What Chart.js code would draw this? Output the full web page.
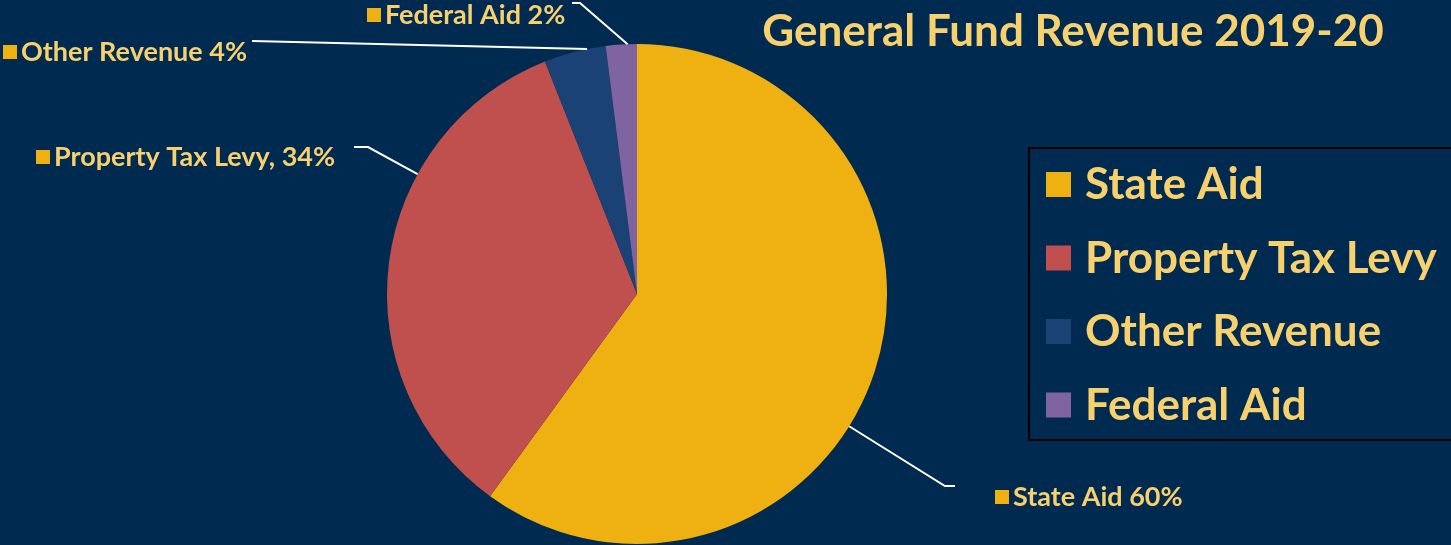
<!DOCTYPE html>
<html>
<head>
<meta charset="utf-8">
<script src="https://cdn.jsdelivr.net/npm/chart.js@4"></script>
<style>
  html, body { margin: 0; padding: 0; background: #012A51; overflow: hidden; }
  canvas { display: block; }
</style>
</head>
<body>
<canvas id="chart" width="1451" height="545"></canvas>
<script>
const title = 'General Fund Revenue 2019-20';
const categories = ['State Aid', 'Property Tax Levy', 'Other Revenue', 'Federal Aid'];
const shares = [60, 34, 4, 2];
const labelSeparators = [' ', ', ', ' ', ' '];

const sliceColors = ['#EFB112', '#C0504D', '#1B4275', '#8064A2'];
const textColor = '#F7D16E';
const font = 'Lato, "Noto Sans", sans-serif';

// where each callout sits: swatch left edge, text middle, and the leader line's elbow points
const callouts = [
  { x: 995, y: 497, leg: [[955, 486], [945, 486]] },
  { x: 36, y: 157, leg: [[354, 147], [368, 147]] },
  { x: 3, y: 52, leg: [[252, 41]] },
  { x: 367, y: 15, leg: [[572, 3], [580, 3]] },
];

const calloutPlugin = {
  id: 'callouts',
  afterDatasetsDraw(chart) {
    const ctx = chart.ctx;
    const arcs = chart.getDatasetMeta(0).data;
    ctx.save();
    ctx.font = `bold 27px ${font}`;
    ctx.textBaseline = 'middle';
    arcs.forEach((arc, i) => {
      const { x, y, startAngle, endAngle, outerRadius } = arc.getProps(
        ['x', 'y', 'startAngle', 'endAngle', 'outerRadius'], true);
      const c = callouts[i];
      const last = c.leg[c.leg.length - 1];
      // aim the leader at the rim, toward the elbow, kept inside the slice
      const span = endAngle - startAngle;
      let a = Math.atan2(last[1] - y, last[0] - x);
      while (a < startAngle) a += Math.PI * 2;
      while (a > startAngle + Math.PI * 2) a -= Math.PI * 2;
      a = Math.min(Math.max(a, startAngle + span * 0.3), endAngle - span * 0.3);
      const ax = x + Math.cos(a) * outerRadius;
      const ay = y + Math.sin(a) * outerRadius;

      ctx.strokeStyle = '#FFFFFF';
      ctx.lineWidth = 2;
      ctx.beginPath();
      ctx.moveTo(c.leg[0][0], c.leg[0][1]);
      c.leg.slice(1).forEach(p => ctx.lineTo(p[0], p[1]));
      ctx.lineTo(ax, ay);
      ctx.stroke();

      ctx.fillStyle = sliceColors[0];
      ctx.fillRect(c.x, c.y - 7, 14, 14);
      ctx.fillStyle = textColor;
      ctx.textAlign = 'left';
      ctx.fillText(categories[i] + labelSeparators[i] + shares[i] + '%', c.x + 18, c.y);
    });
    ctx.restore();
  },
};

const sideLegendPlugin = {
  id: 'sideLegend',
  afterDraw(chart) {
    const ctx = chart.ctx;
    ctx.save();
    // title
    ctx.fillStyle = textColor;
    ctx.font = `bold 44px ${font}`;
    ctx.textAlign = 'center';
    ctx.textBaseline = 'middle';
    ctx.fillText(title, 1073, 32);

    // framed legend
    ctx.strokeStyle = '#000000';
    ctx.lineWidth = 2;
    ctx.strokeRect(1029, 148, 440, 292);
    ctx.font = `bold 44px ${font}`;
    ctx.textAlign = 'left';
    chart.data.labels.forEach((label, i) => {
      const cy = 185 + i * 73.5;
      ctx.fillStyle = chart.data.datasets[0].backgroundColor[i];
      ctx.fillRect(1046, cy - 13, 25, 25);
      ctx.fillStyle = textColor;
      ctx.fillText(label, 1085, cy);
    });
    ctx.restore();
  },
};

new Chart(document.getElementById('chart'), {
  type: 'pie',
  data: {
    labels: categories,
    datasets: [
      {
        data: shares,
        backgroundColor: sliceColors,
        borderWidth: 0,
      },
    ],
  },
  options: {
    responsive: false,
    animation: false,
    devicePixelRatio: 1,
    layout: {
      padding: { left: 387, top: 44, right: 564, bottom: 1 },
    },
    plugins: {
      legend: { display: false },
      tooltip: { enabled: false },
    },
  },
  plugins: [calloutPlugin, sideLegendPlugin],
});
</script>
</body>
</html>
